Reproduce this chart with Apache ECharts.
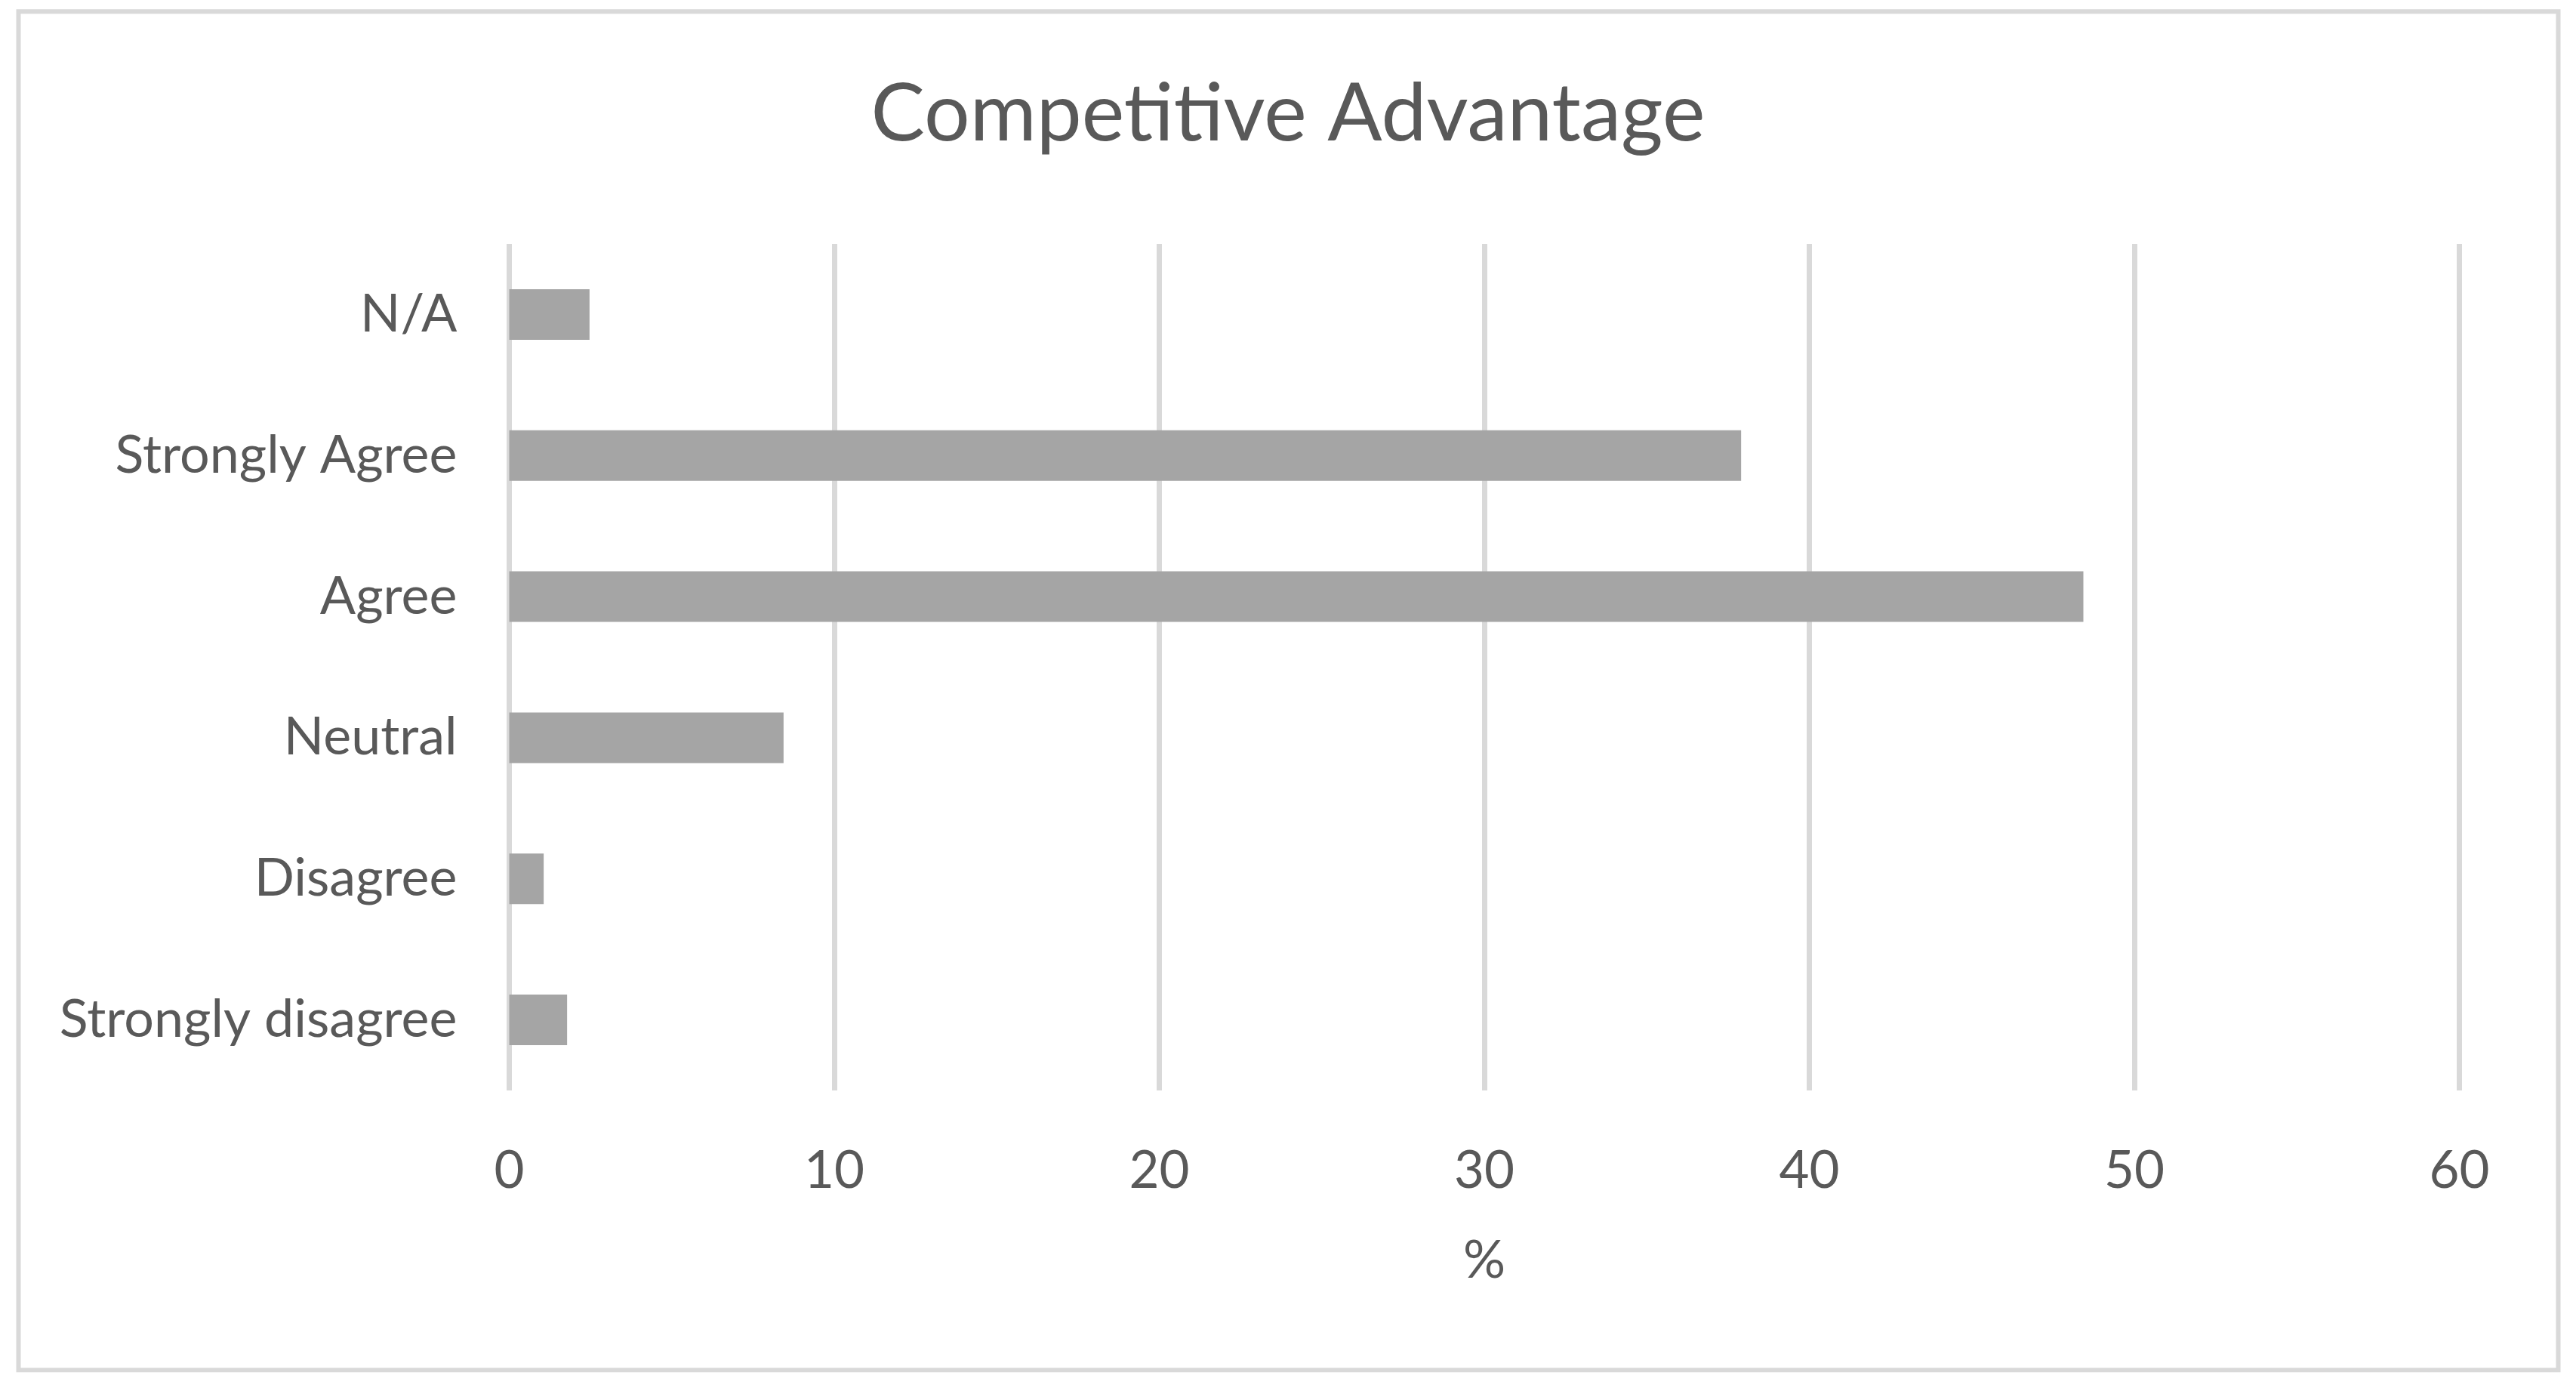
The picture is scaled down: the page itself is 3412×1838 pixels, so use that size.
<!DOCTYPE html>
<html>
<head>
<meta charset="utf-8">
<script src="https://cdn.jsdelivr.net/npm/echarts@6/dist/echarts.min.js"></script>
<style>
html,body{margin:0;padding:0;background:#fff;}
#chart{width:3412px;height:1838px;}
</style>
</head>
<body>
<div id="chart"></div>
<script>
const chartTitle = 'Competitive Advantage';
const categories = ['Strongly disagree', 'Disagree', 'Neutral', 'Agree', 'Strongly Agree', 'N/A'];
const percentValues = [1.78, 1.06, 8.44, 48.43, 37.9, 2.47];
const xAxisName = '%';

const FONT = 'Lato';
const TEXT = '#595959';
const GRID = '#d9d9d9';

const chart = echarts.init(document.getElementById('chart'), null, {renderer: 'canvas'});
chart.setOption({
  backgroundColor: '#ffffff',
  animation: false,
  title: {
    text: chartTitle,
    left: 'center',
    top: 93,
    textStyle: {fontFamily: FONT, fontSize: 107, fontWeight: 'normal', color: TEXT}
  },
  graphic: [{
    type: 'rect',
    shape: {x: 24.5, y: 15.3, width: 3364, height: 1799},
    style: {fill: 'none', stroke: GRID, lineWidth: 6},
    silent: true
  }],
  grid: {left: 674.5, right: 154.4, top: 323, bottom: 394, containLabel: false},
  xAxis: {
    type: 'value',
    min: 0, max: 60, interval: 10,
    name: xAxisName,
    nameLocation: 'middle',
    nameGap: 190,
    nameTextStyle: {fontFamily: FONT, fontSize: 70, color: TEXT},
    axisLine: {show: false},
    axisTick: {show: false},
    axisLabel: {fontFamily: FONT, fontSize: 69, color: TEXT, margin: 72},
    splitLine: {show: true, lineStyle: {color: GRID, width: 7}}
  },
  yAxis: {
    type: 'category',
    data: categories,
    axisLine: {show: false},
    axisTick: {show: false},
    axisLabel: {fontFamily: FONT, fontSize: 70, color: TEXT, margin: 69},
    splitLine: {show: false}
  },
  series: [{
    type: 'bar',
    data: percentValues,
    barWidth: 67,
    itemStyle: {color: '#a5a5a5'},
    silent: true
  }]
});
</script>
</body>
</html>
